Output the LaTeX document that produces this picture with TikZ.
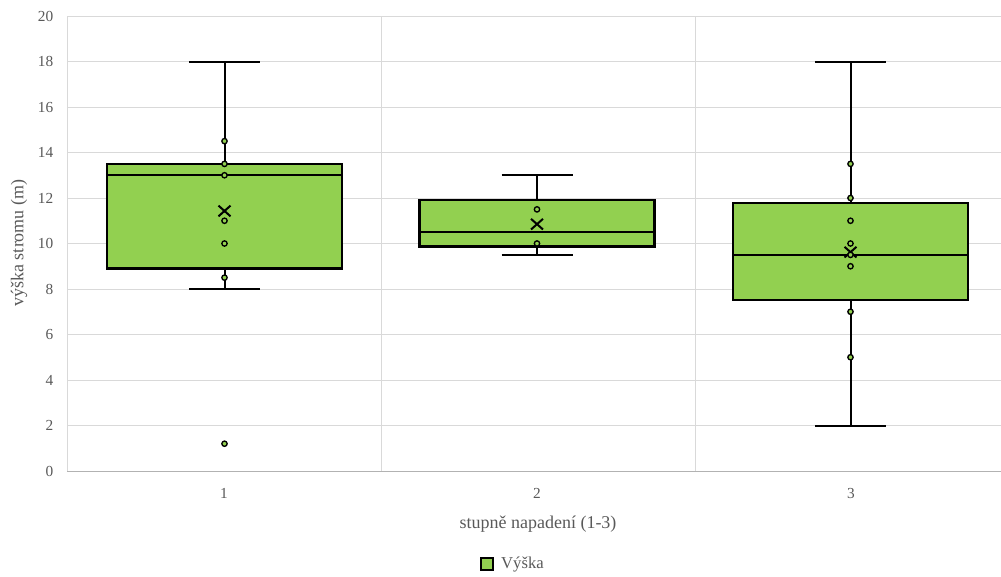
\documentclass[tikz,border=0pt]{standalone}
\usepackage{fontspec}
\setmainfont{Liberation Serif}
\usetikzlibrary{positioning}
\definecolor{boxgreen}{HTML}{92D050}
\definecolor{gridgray}{HTML}{D9D9D9}
\definecolor{textgray}{HTML}{595959}

\begin{document}
\begin{tikzpicture}[x=0.75pt, y=-0.75pt,
    every node/.style={text=textgray, font=\fontsize{12.5}{14}\selectfont},
    ticklabel/.style={font=\fontsize{11.5}{13}\selectfont},
    axistitle/.style={font=\fontsize{13.5}{15}\selectfont},
    gridline/.style={draw=gridgray, line width=0.75pt},
    boxbody/.style={draw=black, fill=boxgreen, line width=1.6pt},
    whiskerline/.style={draw=black, line width=1.5pt},
    medianline/.style={draw=black, line width=1.3pt},
    datapoint/.style={draw=black, fill=boxgreen, line width=1pt},
    meanmark/.style={draw=black, line width=1.5pt}]

    \useasboundingbox (0,0) rectangle (1001,576);

    % Plot area (x in px, y in data units)
    \begin{scope}[yshift=-353.25pt, y=17.0625pt]

        % Grid
        \foreach \v in {2,4,...,20}
            \draw[gridline] (67,\v) -- (1001,\v);
        \foreach \x in {381,695}
            \draw[gridline] (\x,0) -- (\x,20);
        \draw[gridline] (67,0) -- (67,20);
        \draw[gridline, draw=gray!60] (67,0) -- (1001,0);

        % Tick labels
        \foreach \v in {0,2,...,20}
            \node[ticklabel, anchor=east] (ytick\v) at (58,\v) {\v};
        \foreach \c/\x in {1/224,2/537,3/851}
            \node[ticklabel] (xtick\c) at (\x,-0.97) {\c};

        % Boxes: centre / min / Q1 / median / Q3 / max / mean
        \foreach \x/\lo/\qa/\med/\qb/\hi/\m in {224.5/8/8.9/13/13.5/18/11.43,
                                                 537/9.5/9.87/10.52/11.9/13/10.85,
                                                 850.5/2/7.5/9.5/11.77/18/9.62} {
            \draw[whiskerline] (\x,\lo) -- (\x,\hi);
            \draw[whiskerline] (\x-35.5,\lo) -- (\x+35.5,\lo);
            \draw[whiskerline] (\x-35.5,\hi) -- (\x+35.5,\hi);
            \filldraw[boxbody] (\x-117.5,\qa) rectangle (\x+117.5,\qb);
            \draw[medianline] (\x-117.5,\med) -- (\x+117.5,\med);
            \draw[meanmark] (\x,\m) ++(-4.5pt,-4pt) -- ++(9pt,8pt)
                            ++(-9pt,0) -- ++(9pt,-8pt);
        }

        % Data points
        \foreach \x/\pts in {224.5/{14.5,13.5,13,11,10,8.5,1.2},
                             537/{11.5,10},
                             850.5/{13.5,12,11,10,9.5,9,7,5}}
            \foreach \p in \pts
                \filldraw[datapoint] (\x,\p) circle (2pt);

    \end{scope}

    % Axis titles
    \node[axistitle, rotate=90] (ytitle) at (19,243) {výška stromu (m)};
    \node[axistitle] (xtitle) at (538,524) {stupně napadení (1-3)};

    % Legend
    \node[draw=black, fill=boxgreen, line width=1.2pt, minimum size=9pt,
          inner sep=0pt] (legbox) at (487,564) {};
    \node[right=2pt of legbox] (legtext) {Výška};

\end{tikzpicture}
\end{document}
